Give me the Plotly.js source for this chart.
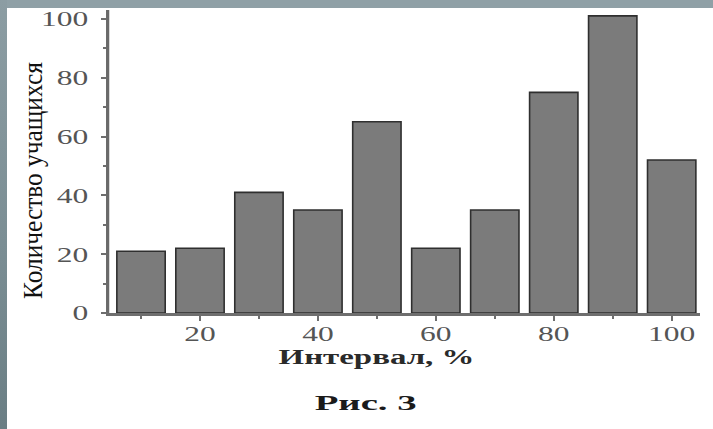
<!DOCTYPE html>
<html>
<head>
<meta charset="utf-8">
<script src="https://cdn.plot.ly/plotly-3.0.1.min.js"></script>
<style>
  html, body { margin: 0; padding: 0; background: #ffffff; }
  #wrap { position: relative; width: 713px; height: 429px; overflow: hidden; }
  #chart { position: absolute; left: 0; top: 0; width: 713px; height: 429px; }
  #bandTop { position: absolute; left: 0; top: 0; width: 713px; height: 8px; background: #8fa0a6; z-index: 5; }
  #bandLeft { position: absolute; left: 0; top: 0; width: 7px; height: 429px;
              background: linear-gradient(to bottom, #8c9da3, #7a8d93 60%, #6a7e84); z-index: 5; }
</style>
</head>
<body>
<div id="wrap">
  <div id="chart"></div>
  <div id="bandTop"></div>
  <div id="bandLeft"></div>
</div>
<script>
// ---- data ----
const intervals = [10, 20, 30, 40, 50, 60, 70, 80, 90, 100];
const counts = [21, 22, 41, 35, 65, 22, 35, 75, 101, 52];
const xTickVals = [20, 40, 60, 80, 100];
const yTickVals = [0, 20, 40, 60, 80, 100];
const xTitle = 'Интервал, %';
const yTitle = 'Количество учащихся';
const caption = 'Рис. 3';

const serif = 'Liberation Serif, Times New Roman, serif';
const axisGray = '#6e6e6e';

const trace = {
  type: 'bar',
  x: intervals,
  y: counts,
  width: 8.2,
  marker: { color: '#7b7b7b', line: { color: '#2f2f2f', width: 1.6 } },
  hoverinfo: 'none'
};

const layout = {
  width: 713, height: 429,
  margin: { l: 108, r: 13, t: 10, b: 116 },
  paper_bgcolor: '#ffffff',
  plot_bgcolor: '#ffffff',
  showlegend: false,
  xaxis: {
    range: [4.4, 104.8],
    tickmode: 'array', tickvals: xTickVals, ticktext: xTickVals.map(String),
    ticks: 'outside', ticklen: 5, tickwidth: 2, tickcolor: axisGray,
    minor: { tickmode: 'linear', tick0: 10, dtick: 20, ticks: 'outside', ticklen: 3, tickwidth: 2, tickcolor: axisGray, showgrid: false },
    showline: true, linecolor: axisGray, linewidth: 2.5,
    showgrid: false, zeroline: false,
    tickfont: { family: serif, size: 21, color: '#555555' },
    fixedrange: true
  },
  yaxis: {
    range: [0, 103],
    tickmode: 'array', tickvals: yTickVals, ticktext: yTickVals.map(String),
    ticks: 'outside', ticklen: 5, tickwidth: 2, tickcolor: axisGray,
    minor: { tickmode: 'linear', tick0: 10, dtick: 20, ticks: 'outside', ticklen: 3, tickwidth: 2, tickcolor: axisGray, showgrid: false },
    showline: true, linecolor: axisGray, linewidth: 2.5,
    showgrid: false, zeroline: false,
    ticklabelstandoff: 8,
    tickfont: { family: serif, size: 21, color: '#555555' },
    fixedrange: true
  },
  shapes: [
    { type: 'line', xref: 'paper', yref: 'paper', x0: 0, x1: 0, y0: 0, y1: 1, layer: 'above',
      line: { color: '#6a6a6a', width: 2.5 } }
  ],
  annotations: [
    { text: yTitle, xref: 'paper', yref: 'paper', x: -0.128, y: 0.4356, xanchor: 'center', yanchor: 'middle',
      textangle: -90, showarrow: false, font: { family: serif, size: 28, color: '#111111' } },
    { text: '<b>' + xTitle + '</b>', xref: 'paper', yref: 'paper', x: 0.454, y: -0.145, xanchor: 'center', yanchor: 'middle',
      showarrow: false, font: { family: serif, size: 21, color: '#2a2a2a' } },
    { text: '<b>' + caption + '</b>', xref: 'paper', yref: 'paper', x: 0.4358, y: -0.297, xanchor: 'center', yanchor: 'middle',
      showarrow: false, font: { family: serif, size: 21, color: '#1a1a1a' } }
  ]
};

function scaleText(el, sx, sy, anchor, dy) {
  const bb = el.getBBox();
  const ax = anchor === 'end' ? bb.x + bb.width : (anchor === 'start' ? bb.x : bb.x + bb.width / 2);
  const ay = bb.y + bb.height / 2;
  const prev = el.getAttribute('transform') || '';
  el.setAttribute('transform', prev + ' translate(0,' + (dy || 0) + ') translate(' + ax + ',' + ay + ') scale(' + sx + ',' + sy + ') translate(' + (-ax) + ',' + (-ay) + ')');
}

Plotly.newPlot('chart', [trace], layout, { staticPlot: true, displayModeBar: false }).then(function (gd) {
  gd.querySelectorAll('g.ytick text').forEach(function (t) { scaleText(t, 1.5, 1, 'end', 0); });
  gd.querySelectorAll('g.xtick text').forEach(function (t) { scaleText(t, 1.5, 1, 'middle', -5); });
  const ann = gd.querySelectorAll('text.annotation-text');
  const targets = [237, 196, 102];
  ann.forEach(function (t, i) {
    const bb = t.getBBox();
    const s = targets[i] / bb.width;
    scaleText(t, s, 1, 'middle', 0);
  });
});
</script>
</body>
</html>
